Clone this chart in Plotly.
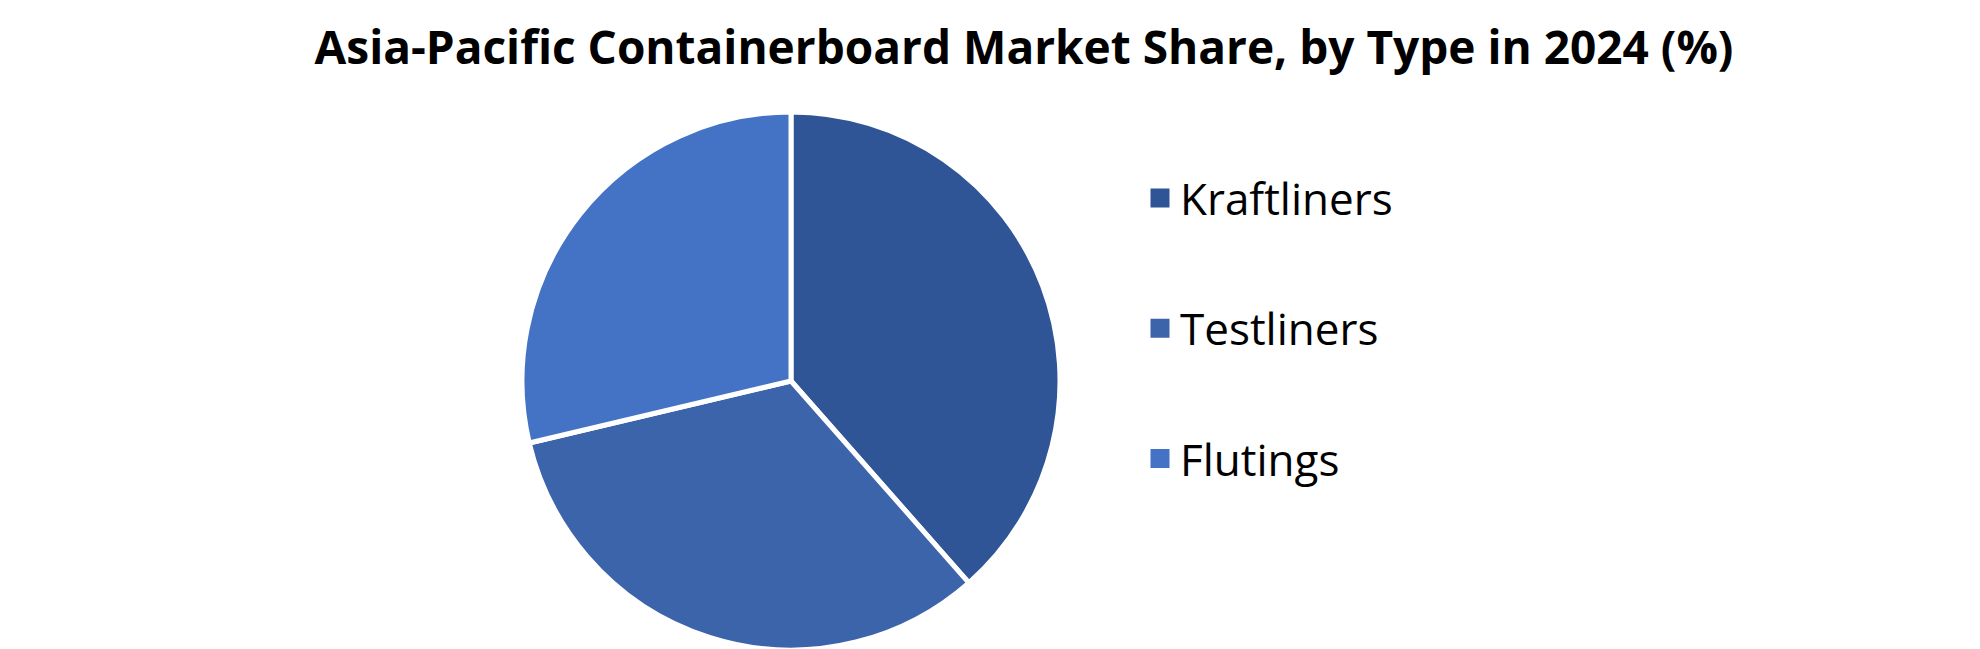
import plotly.graph_objects as go

CHART_TITLE = "Asia-Pacific Containerboard Market Share, by Type in 2024 (%)"

types = ["Kraftliners", "Testliners", "Flutings"]
shares = [38.5, 32.8, 28.7]
colors = ["#2F5597", "#3C64AA", "#4472C4"]

W, H = 1980, 649

fig = go.Figure()

fig.add_trace(go.Pie(
    labels=types,
    values=shares,
    sort=False,
    direction="clockwise",
    rotation=0,
    textinfo="none",
    hoverinfo="label+percent",
    marker=dict(colors=colors, line=dict(color="white", width=5)),
    domain=dict(x=[(783 - 269) / W, (783 + 269) / W], y=[7 / H, 545 / H]),
    showlegend=False,
))

# legend entries (one group each so the rows can be spread out)
for name, col in zip(types, colors):
    fig.add_trace(go.Scatter(
        x=[None], y=[None],
        mode="markers",
        name=name,
        legendgroup=name,
        marker=dict(symbol="square", size=16, color=col, line=dict(color=col, width=3)),
    ))

fig.update_layout(
    width=W,
    height=H,
    paper_bgcolor="white",
    plot_bgcolor="white",
    margin=dict(l=0, r=0, t=0, b=0),
    title=dict(
        text=f"<b>{CHART_TITLE}</b>",
        x=1016 / W,
        xanchor="center",
        y=1 - 40 / H,
        yanchor="middle",
        font=dict(family="Open Sans", size=46, color="black"),
    ),
    legend=dict(
        x=1132 / W,
        xanchor="left",
        y=1 - 155 / H,
        yanchor="top",
        font=dict(family="Open Sans", size=44, color="black"),
        tracegroupgap=70,
        itemsizing="trace",
        bgcolor="rgba(0,0,0,0)",
    ),
    xaxis=dict(visible=False),
    yaxis=dict(visible=False),
)

fig.write_html("out.html")
